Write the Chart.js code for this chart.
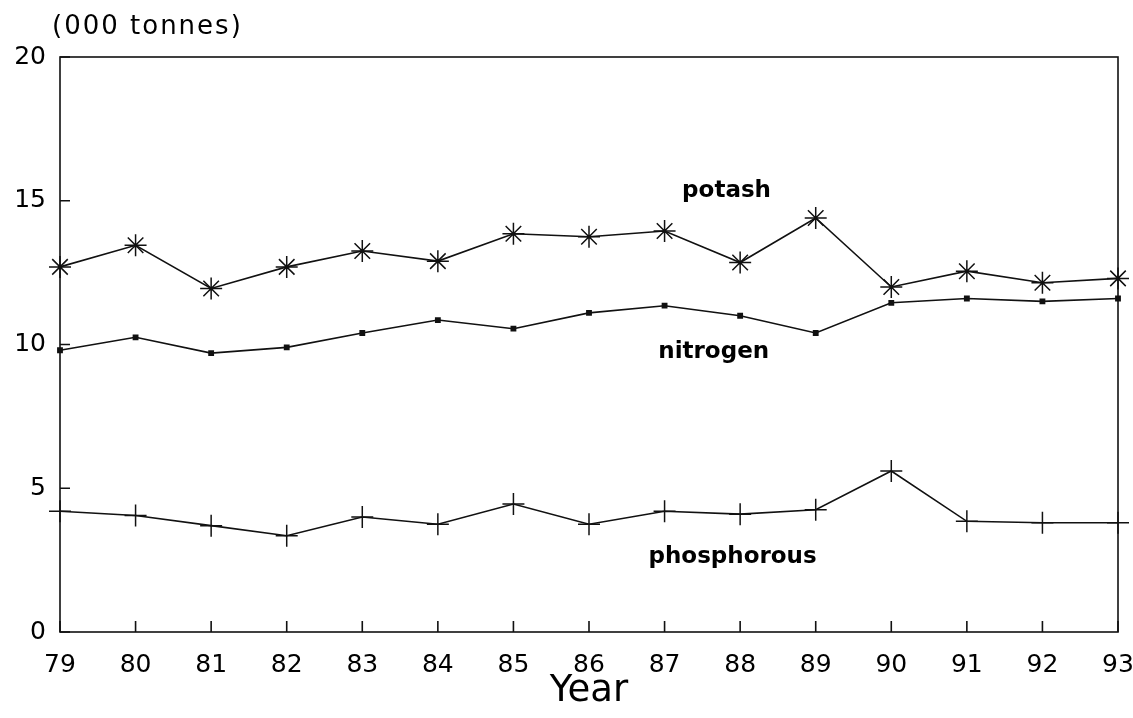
<!DOCTYPE html>
<html>
<head>
<meta charset="utf-8">
<script src="https://cdn.jsdelivr.net/npm/chart.js@4/dist/chart.umd.min.js"></script>
<style>
  html, body { margin: 0; padding: 0; background: #fff; }
  #wrap { width: 1133px; height: 718px; }
</style>
</head>
<body>
<div id="wrap"><canvas id="myChart" width="1133" height="718"></canvas></div>
<script>
// fertiliser use chart

const years = ["79", "80", "81", "82", "83", "84", "85", "86", "87", "88", "89", "90", "91", "92", "93"];
const potash = [12.7, 13.45, 11.95, 12.7, 13.25, 12.9, 13.85, 13.75, 13.95, 12.85, 14.4, 12.0, 12.55, 12.15, 12.3];
const nitrogen = [9.8, 10.25, 9.7, 9.9, 10.4, 10.85, 10.55, 11.1, 11.35, 11.0, 10.4, 11.45, 11.6, 11.5, 11.6];
const phosphorous = [4.2, 4.05, 3.7, 3.35, 4.0, 3.75, 4.45, 3.75, 4.2, 4.1, 4.25, 5.6, 3.85, 3.8, 3.8];
const yTicks = [0, 5, 10, 15, 20];
const unitLabel = "(000 tonnes)";
const xTitle = "Year";

const font = "'DejaVu Sans', Verdana, sans-serif";

// frame, inward ticks and the text labels next to the lines
const framePlugin = {
  id: "frame",
  afterDraw(chart, args, opts) {
    const ctx = chart.ctx;
    const a = chart.chartArea;
    const xs = chart.scales.x;
    const ys = chart.scales.y;
    ctx.save();
    ctx.strokeStyle = "#111";
    ctx.lineWidth = 1.6;
    ctx.strokeRect(a.left, a.top, a.right - a.left, a.bottom - a.top);
    ctx.beginPath();
    years.forEach((y, i) => {
      const px = xs.getPixelForValue(i);
      ctx.moveTo(px, a.bottom);
      ctx.lineTo(px, a.bottom - 11);
    });
    yTicks.forEach((v) => {
      const py = ys.getPixelForValue(v);
      ctx.moveTo(a.left, py);
      ctx.lineTo(a.left + 10, py);
    });
    ctx.stroke();

    ctx.fillStyle = "#000";
    ctx.font = "bold 23px " + font;
    ctx.textAlign = "center";
    ctx.textBaseline = "middle";
    opts.labels.forEach((l) => {
      ctx.fillText(l.text, xs.getPixelForValue(l.x), ys.getPixelForValue(l.y));
    });

    ctx.font = "26px " + font;
    ctx.letterSpacing = "2px";
    ctx.textAlign = "left";
    ctx.fillText(unitLabel, 52, 27);
    ctx.restore();
  },
};

var ctx = document.getElementById("myChart").getContext("2d");
var myChart = new Chart(ctx, {
  type: "line",
  data: {
    labels: years,
    datasets: [
      {
        label: "potash",
        data: potash,
        borderColor: "#111",
        backgroundColor: "#111",
        borderWidth: 1.6,
        pointStyle: "star",
        pointRadius: 11,
        pointBorderWidth: 1.5,
        tension: 0,
      },
      {
        label: "nitrogen",
        data: nitrogen,
        borderColor: "#111",
        backgroundColor: "#111",
        borderWidth: 1.6,
        pointStyle: "rect",
        pointRadius: 3,
        tension: 0,
      },
      {
        label: "phosphorous",
        data: phosphorous,
        borderColor: "#111",
        backgroundColor: "#111",
        borderWidth: 1.6,
        pointStyle: "cross",
        pointRadius: 11,
        pointBorderWidth: 1.5,
        tension: 0,
      },
    ],
  },
  options: {
    responsive: false,
    animation: false,
    layout: { padding: { left: 0, right: 15, top: 57, bottom: 0 } },
    plugins: {
      legend: { display: false },
      tooltip: { enabled: false },
      frame: {
        labels: [
          { text: "potash", x: 8.82, y: 15.35 },
          { text: "nitrogen", x: 8.65, y: 9.75 },
          { text: "phosphorous", x: 8.9, y: 2.6 },
        ],
      },
    },
    scales: {
      x: {
        type: "category",
        offset: false,
        grid: { display: false },
        border: { display: false },
        ticks: {
          color: "#000",
          font: { family: font, size: 25 },
          padding: 10,
          maxRotation: 0,
          autoSkip: false,
        },
        title: {
          display: true,
          text: xTitle,
          color: "#000",
          font: { family: font, size: 37 },
          padding: { top: 0, bottom: 4 },
        },
        afterFit: (s) => {
          s.height = 86;
          s.paddingLeft = 0;
          s.paddingRight = 0;
        },
      },
      y: {
        min: 0,
        max: 20,
        grid: { display: false },
        border: { display: false },
        ticks: {
          stepSize: 5,
          color: "#000",
          font: { family: font, size: 25 },
          padding: 6,
        },
        afterFit: (s) => { s.width = 60; },
      },
    },
  },
  plugins: [framePlugin],
});
</script>
</body>
</html>
